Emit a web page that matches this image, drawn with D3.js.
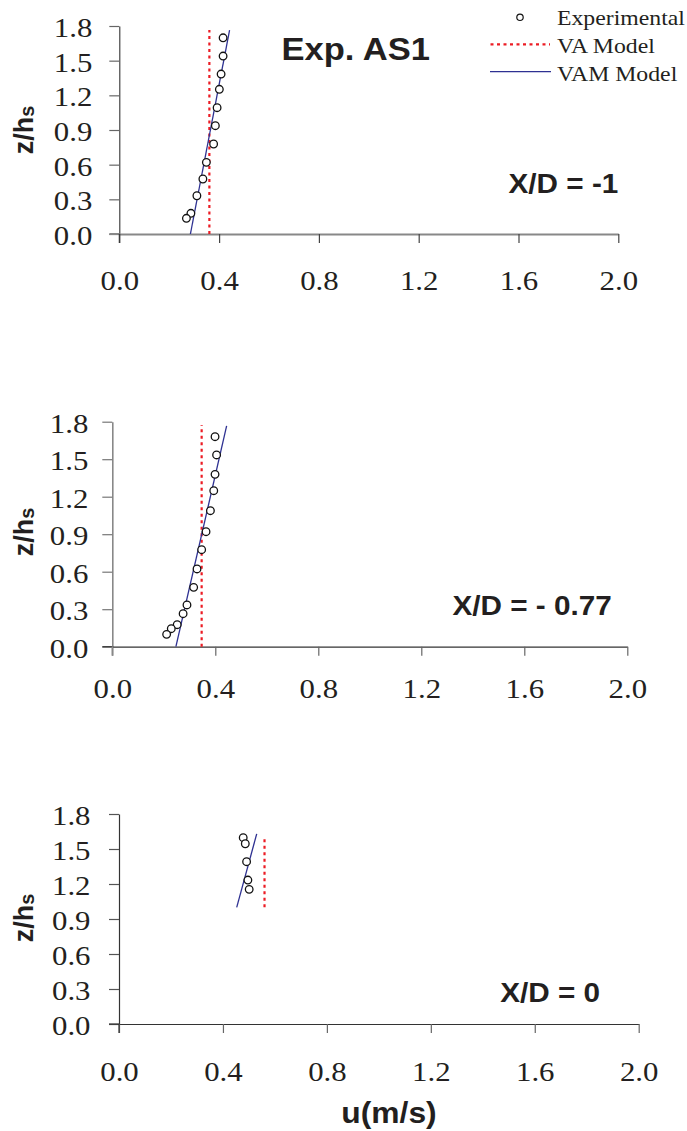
<!DOCTYPE html>
<html>
<head>
<meta charset="utf-8">
<script src="https://cdn.jsdelivr.net/npm/d3@7"></script>
<style>
  html, body { margin: 0; padding: 0; background: #fff; }
  svg { display: block; }
</style>
</head>
<body>
<svg id="chart" width="687" height="1131"></svg>
<script>
// ---------------- DATA ----------------
const xTicks = [0.0, 0.4, 0.8, 1.2, 1.6, 2.0];
const yTicks = [0.0, 0.3, 0.6, 0.9, 1.2, 1.5, 1.8];

// Panel 1 : X/D = -1
const expU1 = [0.416, 0.416, 0.408, 0.401, 0.392, 0.385, 0.378, 0.349, 0.335, 0.311, 0.287, 0.269];
const expZ1 = [1.698, 1.540, 1.384, 1.252, 1.093, 0.937, 0.779, 0.620, 0.476, 0.331, 0.179, 0.136];
const vaU1  = [0.361, 0.361];
const vaZ1  = [0.0, 1.765];
const vamU1 = [0.285, 0.442];
const vamZ1 = [0.0, 1.765];

// Panel 2 : X/D = -0.77
const expU2 = [0.399, 0.405, 0.399, 0.394, 0.381, 0.364, 0.347, 0.329, 0.316, 0.290, 0.275, 0.252, 0.229, 0.211];
const expZ2 = [1.680, 1.534, 1.379, 1.248, 1.088, 0.920, 0.776, 0.622, 0.475, 0.334, 0.264, 0.176, 0.144, 0.099];
const vaU2  = [0.347, 0.347];
const vaZ2  = [0.0, 1.774];
const vamU2 = [0.247, 0.444];
const vamZ2 = [0.0, 1.766];

// Panel 3 : X/D = 0
const expU3 = [0.478, 0.486, 0.491, 0.496, 0.501];
const expZ3 = [1.597, 1.545, 1.391, 1.234, 1.154];
const vaU3  = [0.560, 0.560];
const vaZ3  = [1.0, 1.6];
const vamU3 = [0.453, 0.530];
const vamZ3 = [1.0, 1.63];

const panelLabels = ["X/D = -1", "X/D = - 0.77", "X/D = 0"];
const legendLabels = ["Experimental", "VA Model", "VAM Model"];
const titleText = "Exp. AS1";
const xTitle = "u(m/s)";

// ---------------- LAYOUT ----------------
const SERIF = "'Liberation Serif', 'Times New Roman', serif";
const SANS = "'Liberation Sans', Arial, sans-serif";
const TXT = "#231f20";
const RED = "#ec1c24";
const BLUE = "#2e3192";
const SX = 1.1; // horizontal stretch of the original typesetting

const panels = [
  { u: expU1, z: expZ1, vaU: vaU1, vaZ: vaZ1, vamU: vamU1, vamZ: vamZ1, label: panelLabels[0],
    x0: 119.3, x1: 618.3, yTop: 26, yBot: 234,
    labelX: 618.3, labelY: 192.7, yTitleX: 33, yTitleY: 130, tickBaseline: 56, yGap: 27,
    yAxisColor: "#333", yAxisW: 1.1, yTickColor: "#666",
    xAxisColor: "#888", xAxisW: 2.0, xTickColor: "#444" },
  { u: expU2, z: expZ2, vaU: vaU2, vaZ: vaZ2, vamU: vamU2, vamZ: vamZ2, label: panelLabels[1],
    x0: 112.3, x1: 627.3, yTop: 421.7, yBot: 646.7,
    labelX: 611.7, labelY: 615, yTitleX: 33, yTitleY: 532, tickBaseline: 51, yGap: 24,
    yAxisColor: "#888", yAxisW: 1.6, yTickColor: "#777",
    xAxisColor: "#333", xAxisW: 1.2, xTickColor: "#666" },
  { u: expU3, z: expZ3, vaU: vaU3, vaZ: vaZ3, vamU: vamU3, vamZ: vamZ3, label: panelLabels[2],
    x0: 119.0, x1: 638.7, yTop: 814, yBot: 1024,
    labelX: 600, labelY: 1001.7, yTitleX: 33, yTitleY: 918, tickBaseline: 57.5, yGap: 28.5,
    yAxisColor: "#333", yAxisW: 1.2, yTickColor: "#555",
    xAxisColor: "#333", xAxisW: 1.2, xTickColor: "#666" }
];

const svg = d3.select("#chart");

function stretchedText(parent, x, y, str, size, family, weight, anchor, sx) {
  return parent.append("text")
    .attr("transform", `translate(${x},${y}) scale(${sx},1)`)
    .attr("text-anchor", anchor)
    .attr("font-family", family)
    .attr("font-size", size)
    .attr("font-weight", weight)
    .attr("fill", TXT)
    .text(str);
}

panels.forEach(p => {
  const x = d3.scaleLinear().domain([0, 2]).range([p.x0, p.x1]);
  const y = d3.scaleLinear().domain([0, 1.8]).range([p.yBot, p.yTop]);
  const g = svg.append("g");

  // Y axis
  const yAx = g.append("g")
    .attr("transform", `translate(${p.x0},0)`)
    .call(d3.axisLeft(y).tickValues(yTicks).tickSize(10).tickSizeOuter(0).tickFormat(d3.format(".1f")));
  yAx.select(".domain").attr("stroke", p.yAxisColor).attr("stroke-width", p.yAxisW);
  yAx.selectAll(".tick line").attr("stroke", p.yTickColor).attr("stroke-width", 1.2);
  yAx.selectAll(".tick text")
    .attr("font-family", SERIF).attr("font-size", 28).attr("fill", TXT)
    .attr("x", -p.yGap / SX).attr("dy", "0.37em")
    .attr("transform", `scale(${SX},1)`);

  // X axis
  const xAx = g.append("g")
    .attr("transform", `translate(0,${p.yBot})`)
    .call(d3.axisBottom(x).tickValues(xTicks).tickSize(9).tickSizeOuter(0).tickFormat(d3.format(".1f")));
  xAx.select(".domain").attr("stroke", p.xAxisColor).attr("stroke-width", p.xAxisW);
  xAx.selectAll(".tick line").attr("stroke", p.xTickColor).attr("stroke-width", 1.2);
  xAx.selectAll(".tick text")
    .attr("font-family", SERIF).attr("font-size", 28).attr("fill", TXT)
    .attr("y", p.tickBaseline).attr("dy", 0)
    .attr("transform", `scale(${SX},1)`);
  // extend the x axis line to the left under the 0.0 y tick
  g.append("line")
    .attr("x1", p.x0 - 10).attr("x2", p.x0)
    .attr("y1", p.yBot).attr("y2", p.yBot)
    .attr("stroke", p.xAxisColor).attr("stroke-width", p.xAxisW);
  // y axis continues down through the 0.0 x tick
  g.append("line")
    .attr("x1", p.x0).attr("x2", p.x0)
    .attr("y1", p.yBot).attr("y2", p.yBot + 9)
    .attr("stroke", p.yAxisColor).attr("stroke-width", p.yAxisW);

  // Y title z/h_s
  const yt = g.append("text")
    .attr("transform", `translate(${p.yTitleX},${p.yTitleY}) rotate(-90)`)
    .attr("text-anchor", "middle")
    .attr("font-family", SANS).attr("font-weight", "bold")
    .attr("font-size", 27).attr("fill", TXT);
  yt.append("tspan").text("z/h");
  yt.append("tspan").attr("font-size", 20).attr("dy", 1).text("s");

  // VA model (red dotted)
  const line = d3.line().x(d => x(d[0])).y(d => y(d[1]));
  g.append("path")
    .attr("d", line(d3.zip(p.vaU, p.vaZ)))
    .attr("fill", "none").attr("stroke", RED).attr("stroke-width", 2.2)
    .attr("stroke-dasharray", "3,3.5");
  // VAM model (blue solid)
  g.append("path")
    .attr("d", line(d3.zip(p.vamU, p.vamZ)))
    .attr("fill", "none").attr("stroke", BLUE).attr("stroke-width", 1.3);

  // Experimental points
  g.selectAll("circle.exp")
    .data(d3.zip(p.u, p.z))
    .join("circle")
    .attr("class", "exp")
    .attr("cx", d => x(d[0])).attr("cy", d => y(d[1]))
    .attr("r", 3.8)
    .attr("fill", "#fff").attr("stroke", "#111").attr("stroke-width", 1.3);

  // Panel label
  stretchedText(g, p.labelX, p.labelY, p.label, 27, SANS, "bold", "end", SX);
});

// Title
stretchedText(svg, 281.5, 60, titleText, 32, SANS, "bold", "start", 1.08);

// X title
stretchedText(svg, 389, 1123, xTitle, 30, SANS, "bold", "middle", 1.06);

// Legend
const leg = svg.append("g");
const legY = [25, 53, 80.5];
leg.append("circle").attr("cx", 520).attr("cy", 17.3).attr("r", 3.2)
  .attr("fill", "#fff").attr("stroke", "#111").attr("stroke-width", 1.2);
leg.append("line").attr("x1", 490.5).attr("x2", 550).attr("y1", 44.3).attr("y2", 44.3)
  .attr("stroke", RED).attr("stroke-width", 2.2).attr("stroke-dasharray", "3,3.5");
leg.append("line").attr("x1", 490).attr("x2", 551).attr("y1", 71.7).attr("y2", 71.7)
  .attr("stroke", BLUE).attr("stroke-width", 1.3);
legendLabels.forEach((t, i) => {
  stretchedText(leg, 557, legY[i], t, 22, SERIF, "normal", "start", 1.08);
});
</script>
</body>
</html>
